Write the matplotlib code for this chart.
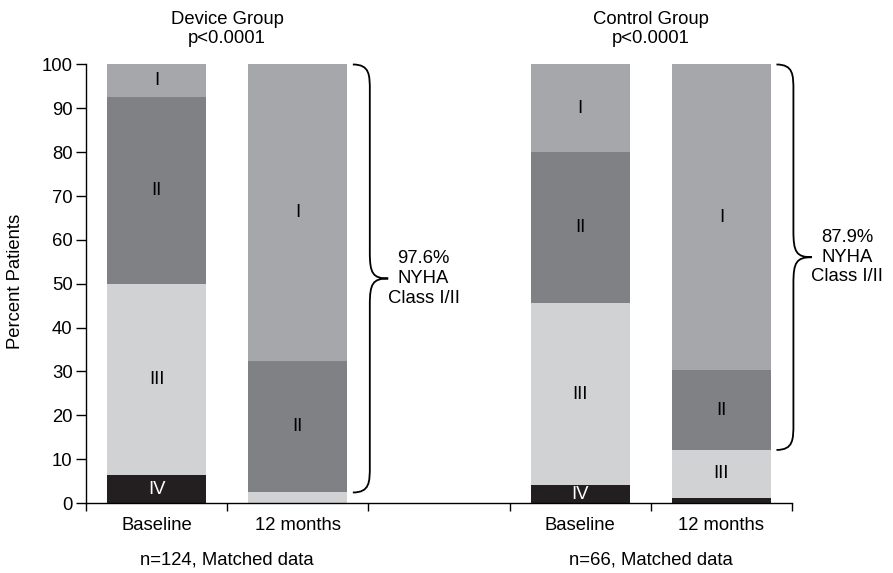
import matplotlib
matplotlib.use("Agg")
import matplotlib.pyplot as plt
import matplotlib.transforms as mtransforms
from matplotlib.path import Path
from matplotlib.patches import PathPatch
import numpy as np

plt.rcParams['font.family'] = ['Liberation Sans', 'DejaVu Sans']

# ---- data ----
classes = ["I", "II", "III", "IV"]
bar_labels = ["Baseline", "12 months", "Baseline", "12 months"]
group_titles = ["Device Group\np<0.0001", "Control Group\np<0.0001"]
group_notes = ["n=124, Matched data", "n=66, Matched data"]
class_I = [7.3, 67.7, 20.0, 69.7]
class_II = [42.7, 29.9, 34.5, 18.2]
class_III = [43.7, 2.4, 41.5, 10.9]
class_IV = [6.3, 0.0, 4.0, 1.2]
pct_I_II = ["97.6%", "87.9%"]
yticks = [0, 10, 20, 30, 40, 50, 60, 70, 80, 90, 100]

colors = {"I": "#a6a7aa", "II": "#808184", "III": "#d1d2d4", "IV": "#231f20"}
text_colors = {"I": "black", "II": "black", "III": "black", "IV": "white"}

positions = np.array([0, 1, 3, 4], dtype=float)
group_centers = [0.5, 3.5]
width = 0.70
FS = 13.3

fig = plt.figure(figsize=(8.93, 5.73), dpi=100)
W, H = 893, 573
ax = fig.add_axes([86 / W, (H - 503) / H, 706 / W, 438.5 / H])

series = {"IV": class_IV, "III": class_III, "II": class_II, "I": class_I}
bottom = np.zeros(4)
for cls in ["IV", "III", "II", "I"]:
    vals = np.array(series[cls])
    ax.bar(positions, vals, width=width, bottom=bottom, color=colors[cls],
           edgecolor="none", zorder=2)
    for x, b, v in zip(positions, bottom, vals):
        if v >= 3:
            ax.text(x, b + v / 2, cls, ha="center", va="center",
                    fontsize=FS, color=text_colors[cls], zorder=3)
    bottom = bottom + vals

ax.set_xlim(-0.5, 4.5)
ax.set_ylim(0, 100)
ax.set_yticks(yticks)
ax.set_yticklabels([str(t) for t in yticks], fontsize=FS)
ax.set_xticks([-0.5, 0.5, 1.5, 2.5, 3.5, 4.5])
ax.set_xticklabels([])
ax.tick_params(axis="y", direction="out", length=7.2, width=1.0, pad=2.5, colors="black")
ax.tick_params(axis="x", direction="out", length=6, width=1.0, colors="black")
for s in ["top", "right"]:
    ax.spines[s].set_visible(False)
for s in ["left", "bottom"]:
    ax.spines[s].set_linewidth(1.0)
    ax.spines[s].set_color("black")

fig.text(16 / W, 1 - 281 / H, "Percent Patients", rotation=90, ha="center",
         va="center", fontsize=FS)

trans = mtransforms.blended_transform_factory(ax.transData, fig.transFigure)
for x, lab in zip(positions, bar_labels):
    ax.text(x, 1 - 526 / H, lab, transform=trans, ha="center", va="center", fontsize=FS)
for gc, title, note in zip(group_centers, group_titles, group_notes):
    ax.text(gc, 1 - 29 / H, title, transform=trans, ha="center", va="center",
            fontsize=FS, linespacing=1.2)
    ax.text(gc, 1 - 560 / H, note, transform=trans, ha="center", va="center", fontsize=FS)

# braces spanning class I + II of 12-month bars
tops = np.array(class_I) + np.array(class_II) + np.array(class_III) + np.array(class_IV)
lows = np.array(class_III) + np.array(class_IV)
for idx, txt in zip([1, 3], pct_I_II):
    xr = positions[idx] + width / 2
    x0 = xr + 0.04
    xv = xr + 0.16
    xt = xr + 0.29
    ytop = tops[idx]
    ybot = lows[idx]
    ymid = (ytop + ybot) / 2
    r = 6.0
    verts = [
        (x0, ytop),
        (xv, ytop), (xv, ytop - r * 0.4), (xv, ytop - r),
        (xv, ymid + r),
        (xv, ymid + r * 0.2), (xv + 0.02, ymid), (xt, ymid),
        (xv + 0.02, ymid), (xv, ymid - r * 0.2), (xv, ymid - r),
        (xv, ybot + r),
        (xv, ybot + r * 0.4), (xv, ybot), (x0, ybot),
    ]
    codes = [Path.MOVETO,
             Path.CURVE4, Path.CURVE4, Path.CURVE4,
             Path.LINETO,
             Path.CURVE4, Path.CURVE4, Path.CURVE4,
             Path.CURVE4, Path.CURVE4, Path.CURVE4,
             Path.LINETO,
             Path.CURVE4, Path.CURVE4, Path.CURVE4]
    patch = PathPatch(Path(verts, codes), facecolor="none", edgecolor="black",
                      linewidth=1.3, clip_on=False, zorder=4)
    ax.add_patch(patch)
    ax.text(xr + 0.54, ymid, f"{txt}\nNYHA\nClass I/II", ha="center", va="center",
            fontsize=FS, linespacing=1.2, clip_on=False)

fig.savefig("out.png", dpi=100)
